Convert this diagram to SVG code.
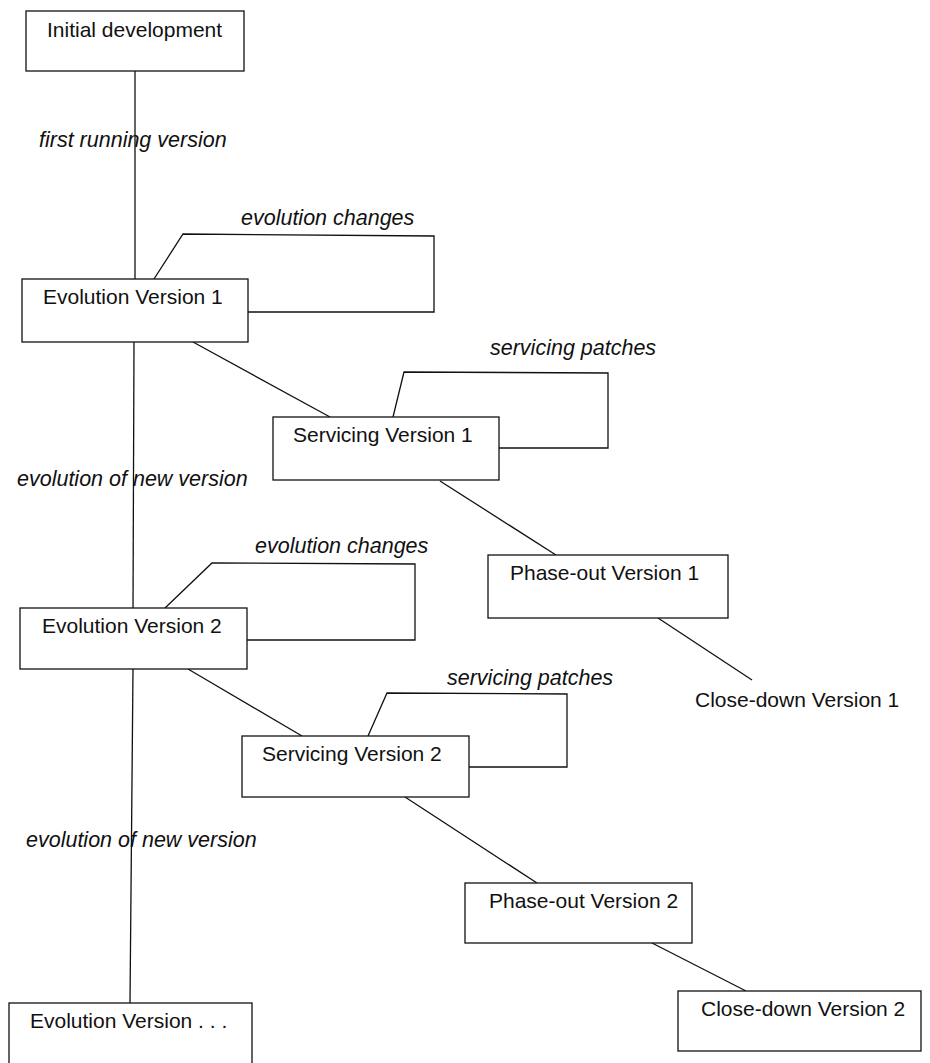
<svg xmlns="http://www.w3.org/2000/svg" width="930" height="1063" viewBox="0 0 930 1063">
<style>
.box{fill:#fff;stroke:#111;stroke-width:1.3}
.ln{fill:none;stroke:#111;stroke-width:1.3}
.t{font-family:"Liberation Sans",Arial,sans-serif;font-size:21px;fill:#111}
.i{font-family:"Liberation Sans",Arial,sans-serif;font-size:21.5px;font-style:italic;fill:#111}
</style>
<rect width="930" height="1063" fill="#fff"/>
<g id="connectors">
<line class="ln" x1="135" y1="71" x2="135" y2="279"/>
<line class="ln" x1="134" y1="342" x2="133" y2="608"/>
<line class="ln" x1="133" y1="669" x2="130" y2="1003"/>
<line class="ln" x1="193" y1="342" x2="330" y2="417"/>
<line class="ln" x1="440" y1="481" x2="556" y2="555"/>
<line class="ln" x1="658" y1="618" x2="752" y2="680"/>
<line class="ln" x1="188" y1="669" x2="302" y2="736"/>
<line class="ln" x1="405" y1="797" x2="537" y2="883"/>
<line class="ln" x1="652" y1="943" x2="746" y2="991"/>
<path class="ln" d="M154,279 L183,234 L434,236 L434,312 L248,312"/>
<path class="ln" d="M393,417 L404,372 L608,373 L608,448 L499,448"/>
<path class="ln" d="M165,608 L212,563 L415,564 L415,640 L247,640"/>
<path class="ln" d="M368,736 L387,693 L567,694 L567,767 L469,767"/>
</g>
<g id="labels">
<text class="i" x="39" y="147">first running version</text>
<text class="i" x="241" y="225">evolution changes</text>
<text class="i" x="490" y="355">servicing patches</text>
<text class="i" x="17" y="486">evolution of new version</text>
<text class="i" x="255" y="553">evolution changes</text>
<text class="i" x="447" y="685">servicing patches</text>
<text class="i" x="26" y="847">evolution of new version</text>
</g>
<g id="initial"><rect class="box" x="26" y="11" width="218" height="60"/><text class="t" x="47" y="37">Initial development</text></g>
<g id="ev1"><rect class="box" x="22" y="279" width="226" height="63"/><text class="t" x="43" y="304">Evolution Version 1</text></g>
<g id="sv1"><rect class="box" x="273" y="417" width="226" height="63"/><text class="t" x="293" y="442">Servicing Version 1</text></g>
<g id="po1"><rect class="box" x="488" y="555" width="240" height="63"/><text class="t" x="510" y="580">Phase-out Version 1</text></g>
<g id="cd1"><text class="t" x="695" y="707">Close-down Version 1</text></g>
<g id="ev2"><rect class="box" x="20" y="608" width="227" height="61"/><text class="t" x="42" y="633">Evolution Version 2</text></g>
<g id="sv2"><rect class="box" x="242" y="736" width="227" height="61"/><text class="t" x="262" y="761">Servicing Version 2</text></g>
<g id="po2"><rect class="box" x="465" y="883" width="227" height="60"/><text class="t" x="489" y="908">Phase-out Version 2</text></g>
<g id="cd2"><rect class="box" x="678" y="991" width="243" height="60"/><text class="t" x="701" y="1016">Close-down Version 2</text></g>
<g id="evn"><rect class="box" x="9" y="1003" width="243" height="70"/><text class="t" x="30" y="1028">Evolution Version . . .</text></g>
</svg>
